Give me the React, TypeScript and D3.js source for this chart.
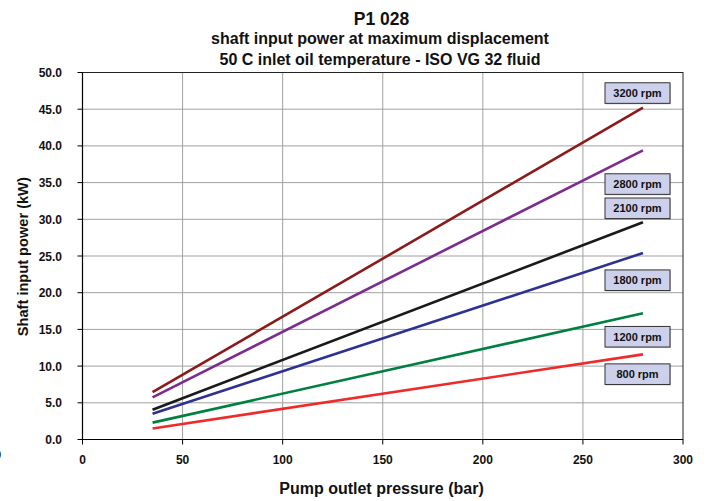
import React from "react";
import * as d3 from "d3";

const speeds = ["800 rpm", "1200 rpm", "1800 rpm", "2100 rpm", "2800 rpm", "3200 rpm"];
const pressures = [35, 280];
const power800 = [1.5, 11.6];
const power1200 = [2.3, 17.2];
const power1800 = [3.5, 25.4];
const power2100 = [4.05, 29.6];
const power2800 = [5.75, 39.4];
const power3200 = [6.45, 45.2];
const labelLevels = [8.9, 14.0, 21.7, 31.5, 34.8, 47.2];
const colors = ["#ee2b2b", "#008040", "#2e3192", "#1a1a1a", "#7b2d8e", "#8b1a1a"];
const xTicks = [0, 50, 100, 150, 200, 250, 300];
const yTicks = [0, 5, 10, 15, 20, 25, 30, 35, 40, 45, 50];

const series = [power800, power1200, power1800, power2100, power2800, power3200];

export default function App() {
  const W = 710, H = 501;
  const left = 82.5, right = 683, top = 72.5, bottom = 439.5;
  const x = d3.scaleLinear().domain([0, 300]).range([left, right]);
  const y = d3.scaleLinear().domain([0, 50]).range([bottom, top]);
  const line = d3.line<number>().x((_, i) => x(pressures[i])).y((d) => y(d));
  const font = "'Liberation Sans', Arial, sans-serif";
  return (
    <svg width={W} height={H} style={{ position: "absolute", left: 0, top: 0, background: "#fff" }} fontFamily={font}>
      {xTicks.slice(1, -1).map((t) => (
        <line key={"gx" + t} x1={x(t)} x2={x(t)} y1={top} y2={bottom} stroke="#a0a0a0" strokeWidth={1} />
      ))}
      {yTicks.slice(1, -1).map((t) => (
        <line key={"gy" + t} x1={left} x2={right} y1={y(t)} y2={y(t)} stroke="#a0a0a0" strokeWidth={1} />
      ))}
      <rect x={left} y={top} width={right - left} height={bottom - top} fill="none" stroke="#222" strokeWidth={1} />
      <line x1={left} x2={right} y1={bottom} y2={bottom} stroke="#000" strokeWidth={1.2} />
      <line x1={left} x2={left} y1={top} y2={bottom} stroke="#000" strokeWidth={1.2} />
      {yTicks.map((t) => (
        <g key={"yt" + t}>
          <line x1={left - 5} x2={left} y1={y(t)} y2={y(t)} stroke="#000" />
          <text x={62} y={y(t) + 4.5} textAnchor="end" fontSize={12} fontWeight="bold" fill="#111">{t.toFixed(1)}</text>
        </g>
      ))}
      {xTicks.map((t) => (
        <g key={"xt" + t}>
          <line x1={x(t)} x2={x(t)} y1={bottom} y2={bottom + 5} stroke="#000" />
          <text x={x(t)} y={464} textAnchor="middle" fontSize={12} fontWeight="bold" fill="#111">{t}</text>
        </g>
      ))}
      <text x={-5.5} y={459} fontSize={12} fontWeight="bold" fill="#111">0</text>
      {series.map((s, i) => (
        <path key={"s" + i} d={line(s) || ""} fill="none" stroke={colors[i]} strokeWidth={2.6} />
      ))}
      {speeds.map((s, i) => (
        <g key={"l" + i}>
          <rect x={606} y={y(labelLevels[i]) - 9.3} width={65} height={20.6} fill="#555" opacity={0.3} />
          <rect x={605} y={y(labelLevels[i]) - 10.3} width={65} height={20.6} fill="#ccd0ea" stroke="#333" strokeWidth={1} />
          <text x={637.5} y={y(labelLevels[i]) + 3.8} textAnchor="middle" fontSize={11} fontWeight="bold" fill="#111">{s}</text>
        </g>
      ))}
      <text x={381.5} y={25} textAnchor="middle" fontSize={17.5} fontWeight="bold" fill="#111">P1 028</text>
      <text x={380} y={43.5} textAnchor="middle" fontSize={16} fontWeight="bold" fill="#111">shaft input power at maximum displacement</text>
      <text x={380} y={65} textAnchor="middle" fontSize={16} fontWeight="bold" fill="#111">50 C inlet oil temperature - ISO VG 32 fluid</text>
      <text x={381.5} y={494} textAnchor="middle" fontSize={16} fontWeight="bold" fill="#111">Pump outlet pressure (bar)</text>
      <text transform={`translate(27.5,256.7) rotate(-90)`} textAnchor="middle" fontSize={14.6} fontWeight="bold" fill="#111">Shaft input power (kW)</text>
    </svg>
  );
}
